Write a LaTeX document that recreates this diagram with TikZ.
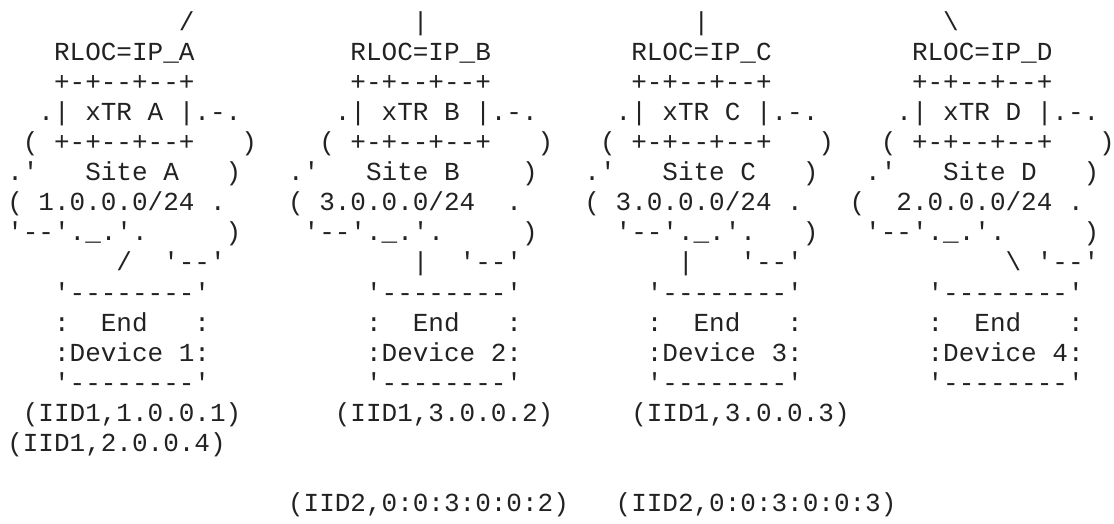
\documentclass[tikz,border=0pt]{standalone}
\usepackage{fontspec}
\usepackage{xcolor}
\newfontfamily\asciifont{Liberation Mono}[Ligatures=TeXOff]
\definecolor{asciiink}{HTML}{222222}
\tikzset{
  ascii/.style={font=\asciifont\fontsize{10}{11.58}\selectfont\frenchspacing,
    text=asciiink, inner sep=0pt, anchor=base west}
}

\begin{document}
\begin{tikzpicture}[x=6pt,y=-11.58pt]
    \useasboundingbox (-0.433,0) rectangle (70.98,17.4);

    % uplinks
    \node[ascii] (upA) at (11,1) {/};
    \node[ascii] (upB) at (26,1) {|};
    \node[ascii] (upC) at (44,1) {|};
    \node[ascii] (upD) at (60,1) {\textbackslash};

    % site A
    \node[ascii] (rlocA) at (3,2) {RLOC=IP\_A};
    \node[ascii] (topA) at (3,3) {+-+--+--+};
    \node[ascii] (xtrA) at (2,4) {.| xTR A |.-.};
    \node[ascii] (botA) at (1,5) {( +-+--+--+~~~)};
    \node[ascii] (siteA) at (0,6) {.'~~~Site A~~~)};
    \node[ascii] (pfxA) at (0,7) {( 1.0.0.0/24 .};
    \node[ascii] (rimA) at (0,8) {'--'.\_.'.~~~~~)};
    \node[ascii] (linkA) at (7,9) {/~~'--'};

    % site B
    \node[ascii] (rlocB) at (22,2) {RLOC=IP\_B};
    \node[ascii] (topB) at (22,3) {+-+--+--+};
    \node[ascii] (xtrB) at (21,4) {.| xTR B |.-.};
    \node[ascii] (botB) at (20,5) {( +-+--+--+~~~)};
    \node[ascii] (siteB) at (18,6) {.'~~~Site B~~~~)};
    \node[ascii] (pfxB) at (18,7) {( 3.0.0.0/24~~.};
    \node[ascii] (rimB) at (19,8) {'--'.\_.'.~~~~~)};
    \node[ascii] (linkB) at (26,9) {|~~'--'};

    % site C
    \node[ascii] (rlocC) at (40,2) {RLOC=IP\_C};
    \node[ascii] (topC) at (40,3) {+-+--+--+};
    \node[ascii] (xtrC) at (39,4) {.| xTR C |.-.};
    \node[ascii] (botC) at (38,5) {( +-+--+--+~~~)};
    \node[ascii] (siteC) at (37,6) {.'~~~Site C~~~)};
    \node[ascii] (pfxC) at (37,7) {( 3.0.0.0/24 .};
    \node[ascii] (rimC) at (39,8) {'--'.\_.'.~~~)};
    \node[ascii] (linkC) at (43,9) {|~~~'--'};

    % site D
    \node[ascii] (rlocD) at (58,2) {RLOC=IP\_D};
    \node[ascii] (topD) at (58,3) {+-+--+--+};
    \node[ascii] (xtrD) at (57,4) {.| xTR D |.-.};
    \node[ascii] (botD) at (56,5) {( +-+--+--+~~~)};
    \node[ascii] (siteD) at (55,6) {.'~~~Site D~~~)};
    \node[ascii] (pfxD) at (54,7) {(~~2.0.0.0/24 .};
    \node[ascii] (rimD) at (55,8) {'--'.\_.'.~~~~~)};
    \node[ascii] (linkD) at (64,9) {\textbackslash{} '--'};

    % end devices
    \node[ascii] (dev1top) at (3,10) {'--------'};
    \node[ascii] (dev1end) at (3,11) {:~~End~~~:};
    \node[ascii] (dev1name) at (3,12) {:Device 1:};
    \node[ascii] (dev1bot) at (3,13) {'--------'};

    \node[ascii] (dev2top) at (23,10) {'--------'};
    \node[ascii] (dev2end) at (23,11) {:~~End~~~:};
    \node[ascii] (dev2name) at (23,12) {:Device 2:};
    \node[ascii] (dev2bot) at (23,13) {'--------'};

    \node[ascii] (dev3top) at (41,10) {'--------'};
    \node[ascii] (dev3end) at (41,11) {:~~End~~~:};
    \node[ascii] (dev3name) at (41,12) {:Device 3:};
    \node[ascii] (dev3bot) at (41,13) {'--------'};

    \node[ascii] (dev4top) at (59,10) {'--------'};
    \node[ascii] (dev4end) at (59,11) {:~~End~~~:};
    \node[ascii] (dev4name) at (59,12) {:Device 4:};
    \node[ascii] (dev4bot) at (59,13) {'--------'};

    % addresses
    \node[ascii] (eid1a) at (1,14) {(IID1,1.0.0.1)};
    \node[ascii] (eid1b) at (0,15) {(IID1,2.0.0.4)};
    \node[ascii] (eid2a) at (21,14) {(IID1,3.0.0.2)};
    \node[ascii] (eid2b) at (18,17) {(IID2,0:0:3:0:0:2)};
    \node[ascii] (eid3a) at (40,14) {(IID1,3.0.0.3)};
    \node[ascii] (eid3b) at (39,17) {(IID2,0:0:3:0:0:3)};
\end{tikzpicture}
\end{document}
